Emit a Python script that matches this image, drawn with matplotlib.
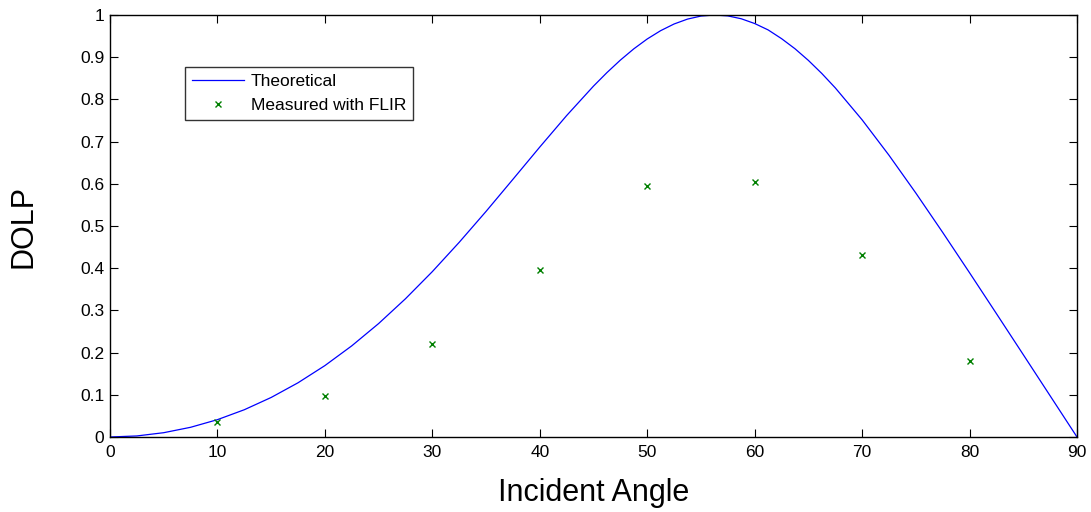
import matplotlib
matplotlib.use("Agg")
import matplotlib.pyplot as plt

plt.rcParams['font.family'] = ['Liberation Sans', 'DejaVu Sans']

# Theoretical curve
theory_angle = [0, 2.5, 5, 7.5, 10, 12.5, 15, 17.5, 20, 22.5, 25, 27.5, 30, 32.5,
                35, 37.5, 40, 42.5, 45, 46.25, 47.5, 48.75, 50, 51.25, 52.5, 53.75,
                55, 56.25, 57.5, 58.75, 60, 61.25, 62.5, 63.75, 65, 66.25, 67.5,
                70, 72.5, 75, 77.5, 80, 82.5, 85, 87.5, 90]
theory_dolp = [0.0, 0.0025, 0.0102, 0.0230, 0.0411, 0.0646, 0.0937, 0.1285,
               0.1692, 0.2160, 0.2688, 0.3276, 0.3919, 0.4613, 0.5346, 0.6106,
               0.6871, 0.7617, 0.8315, 0.8635, 0.8931, 0.9198, 0.9432, 0.9629,
               0.9787, 0.9903, 0.9975, 1.0, 0.9979, 0.9911, 0.9798, 0.9647,
               0.9440, 0.9201, 0.8924, 0.8614, 0.8274, 0.7516, 0.6677, 0.5781,
               0.4848, 0.3892, 0.2924, 0.1951, 0.0976, 0.0]

# Measured points
meas_angle = [10, 20, 30, 40, 50, 60, 70, 80]
meas_dolp = [0.035, 0.098, 0.220, 0.395, 0.595, 0.605, 0.432, 0.180]

x_ticks = [0, 10, 20, 30, 40, 50, 60, 70, 80, 90]
y_ticks = [0, 0.1, 0.2, 0.3, 0.4, 0.5, 0.6, 0.7, 0.8, 0.9, 1]
y_tick_labels = ['0', '0.1', '0.2', '0.3', '0.4', '0.5', '0.6', '0.7', '0.8', '0.9', '1']

fig = plt.figure(figsize=(10.91, 5.12), dpi=100)
ax = fig.add_axes([110 / 1091, 1 - 437 / 512, (1077 - 110) / 1091, (437 - 15) / 512])

ax.plot(theory_angle, theory_dolp, color='#0000ff', linewidth=0.9, label='Theoretical')
ax.plot(meas_angle, meas_dolp, linestyle='none', marker='x', color='#008000',
        markersize=4, markeredgewidth=1.0, label='Measured with FLIR')

ax.set_xlim(0, 90)
ax.set_ylim(0, 1)
ax.set_xticks(x_ticks)
ax.set_xticklabels([str(t) for t in x_ticks])
ax.set_yticks(y_ticks)
ax.set_yticklabels(y_tick_labels)
ax.tick_params(axis='both', direction='in', length=6, width=0.8, labelsize=12.5,
               top=True, right=True)
ax.tick_params(axis='x', pad=6)
ax.tick_params(axis='y', pad=4)
for sp in ax.spines.values():
    sp.set_linewidth(1.0)
    sp.set_color('black')

ax.set_xlabel('Incident Angle', fontsize=22, labelpad=13)
ax.set_ylabel('DOLP', fontsize=22, labelpad=30)

leg = ax.legend(loc='upper left', bbox_to_anchor=((185 - 110) / 967, (437 - 67) / 422),
                frameon=True, fancybox=False, fontsize=12.5, borderaxespad=0,
                handlelength=3.0, handletextpad=0.4, borderpad=0.4, labelspacing=0.5)
leg.get_frame().set_edgecolor('black')
leg.get_frame().set_linewidth(1.0)

fig.savefig('out.png', dpi=100)
